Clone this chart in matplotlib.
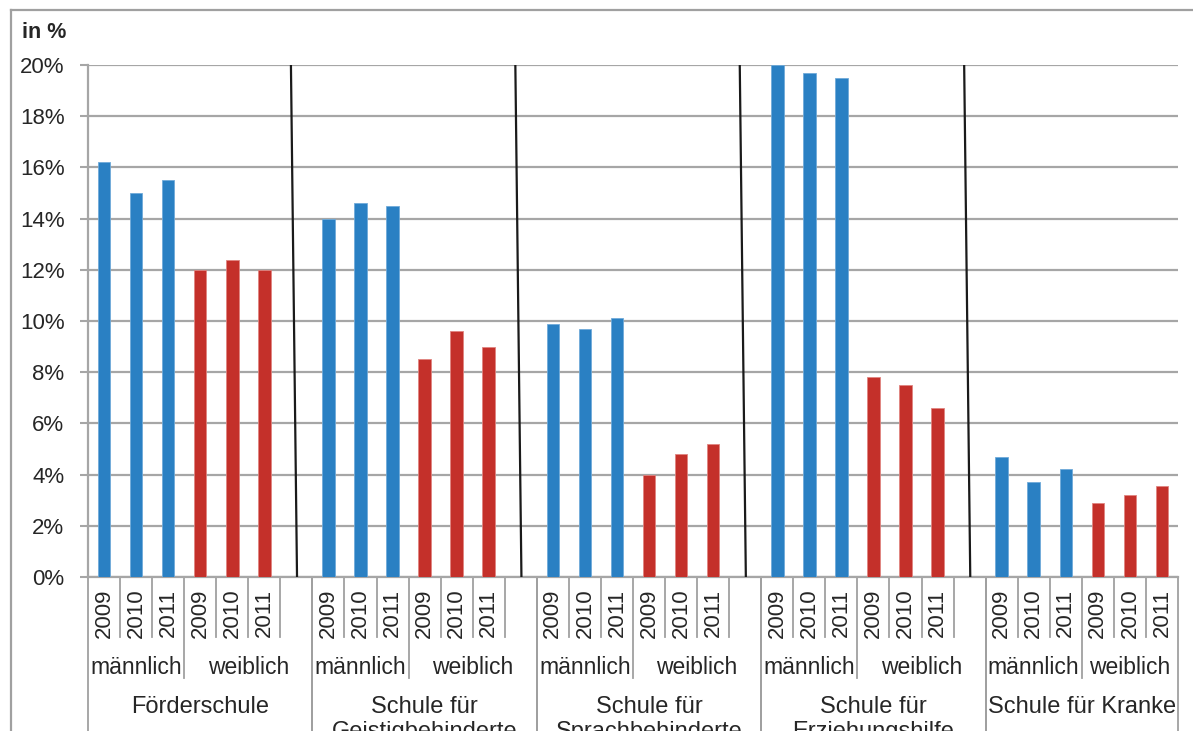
import matplotlib
matplotlib.use("Agg")
import matplotlib.pyplot as plt
from matplotlib.lines import Line2D

plt.rcParams['font.family'] = ['Liberation Sans', 'DejaVu Sans']

schools = ["Förderschule", "Schule für\nGeistigbehinderte", "Schule für\nSprachbehinderte",
           "Schule für\nErziehungshilfe", "Schule für Kranke"]
genders = ["männlich", "weiblich"]
years = ["2009", "2010", "2011"]
male = [[16.2, 15.0, 15.5], [14.0, 14.6, 14.5], [9.9, 9.7, 10.1], [20.0, 19.7, 19.5], [4.7, 3.7, 4.2]]
female = [[12.0, 12.4, 12.0], [8.5, 9.6, 9.0], [4.0, 4.8, 5.2], [7.8, 7.5, 6.6], [2.9, 3.2, 3.55]]
yticks = [0, 2, 4, 6, 8, 10, 12, 14, 16, 18, 20]

BLUE = "#2A80C3"
RED = "#C4302A"
GRID = "#A6A6A6"
SEP = "#A0A0A0"
TXT = "#262626"

W, H = 1193, 731
fig = plt.figure(figsize=(W / 100, H / 100), dpi=100)
ax = fig.add_axes([88 / W, 1 - 577 / H, (1178 - 88) / W, (577 - 65) / H])

group_w = 7
n_slots = group_w * (len(schools) - 1) + 6

for g in range(len(schools)):
    base = g * group_w
    for k in range(len(years)):
        ax.bar(base + k, male[g][k], width=0.39, color=BLUE, edgecolor="#6FAAD9", linewidth=0.6, zorder=3)
        ax.bar(base + 3 + k, female[g][k], width=0.39, color=RED, edgecolor="#E08480", linewidth=0.6, zorder=3)

ax.set_xlim(-0.5, n_slots - 0.5)
ax.set_ylim(0, 20)
ax.set_yticks(yticks)
ax.set_yticklabels([f"{v}%" for v in yticks], fontsize=16, color=TXT)
ax.tick_params(axis='y', length=6, width=1.5, color=GRID, pad=11)
ax.set_xticks([])
ax.grid(axis='y', color=GRID, linewidth=1.6, zorder=1)
ax.set_axisbelow(True)
for s in ['top', 'right']:
    ax.spines[s].set_visible(False)
for s in ['left', 'bottom']:
    ax.spines[s].set_color(GRID)
    ax.spines[s].set_linewidth(1.6)
    ax.spines[s].set_zorder(2)

# slanted black separators inside plot
for g in range(len(schools) - 1):
    xc = g * group_w + 6
    ax.plot([xc - 0.17, xc + 0.02], [20, 0], color="#1a1a1a", lw=1.6, zorder=4, solid_capstyle='butt')

# multi-level category axis
tr = ax.get_xaxis_transform()
y_year = -60 / 512
y_gender = -101 / 512
y_bottom = -0.35

for g in range(len(schools)):
    base = g * group_w
    nslot = group_w if g < len(schools) - 1 else 6
    for j in range(nslot + 1):
        xb = base + j - 0.5
        if j == 0 or j == nslot:
            yb = y_bottom
        elif j == 3:
            yb = y_gender
        else:
            yb = y_year
        ax.plot([xb, xb], [0, yb], transform=tr, color=SEP, lw=1.3, clip_on=False, zorder=2)
    # year labels
    for s in range(2):
        for k in range(3):
            ax.text(base + s * 3 + k, -36 / 512, years[k], transform=tr, rotation=90,
                    ha='center', va='center', fontsize=16, color=TXT)
    # gender labels
    m_c = base + 1
    w_end = base + nslot - 1
    w_c = (base + 3 + w_end) / 2
    ax.text(m_c, -91 / 512, genders[0], transform=tr, ha='center', va='center',
            fontsize=16.5, color=TXT)
    ax.text(w_c, -91 / 512, genders[1], transform=tr, ha='center', va='center',
            fontsize=16.5, color=TXT)
    # school labels
    g_c = base + (nslot - 1) / 2
    ax.text(g_c, -119 / 512, schools[g], transform=tr, ha='center', va='top',
            fontsize=17, color=TXT, linespacing=1.15)

# "in %" label
fig.text(22 / W, 1 - 33 / H, "in %", fontsize=15.5, fontweight='bold', ha='left', va='center', color=TXT)

# outer frame (cropped screenshot border)
fig.add_artist(Line2D([11 / W, 11 / W], [0, 1 - 10 / H], color=SEP, lw=1.6))
fig.add_artist(Line2D([11 / W, 1], [1 - 10 / H, 1 - 10 / H], color=SEP, lw=1.6))

fig.savefig("out.png", dpi=100)
